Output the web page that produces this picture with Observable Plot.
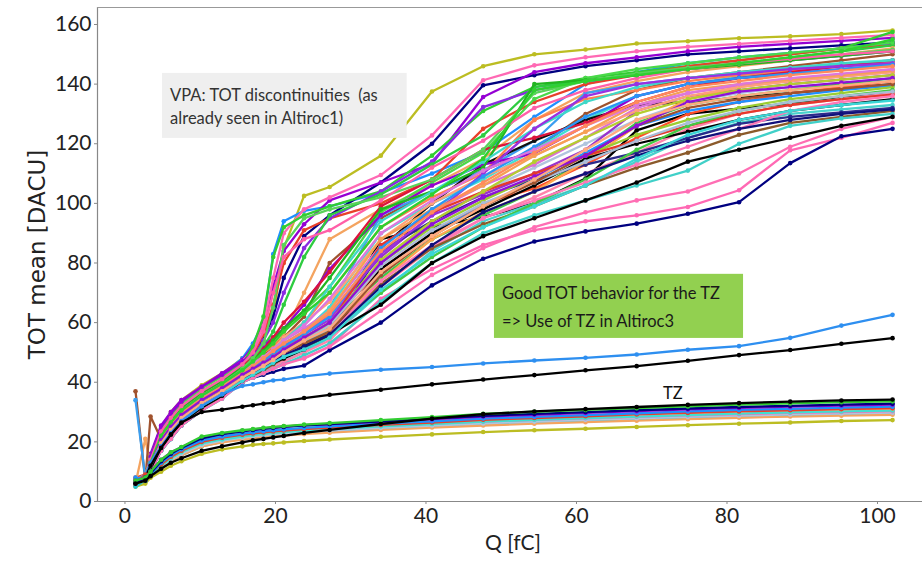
<!DOCTYPE html>
<html>
<head>
<meta charset="utf-8">
<script src="https://cdn.jsdelivr.net/npm/d3@7"></script>
<script src="https://cdn.jsdelivr.net/npm/@observablehq/plot@0.6"></script>
<style>
  body { margin: 0; background: #fff; }
  #chart svg { display: block; }
</style>
</head>
<body>
<div id="chart"></div>
<script>
// Injected charge grid (fC)
const Q = [1.4, 2.7, 3.4, 4.8, 6.1, 7.5, 10.2, 12.9, 15.6, 17, 18.4, 19.7, 21.1, 23.8, 27.2, 34, 40.8, 47.6, 54.4, 61.2, 68, 74.8, 81.6, 88.4, 95.2, 102];

// VPA channels (TOT mean, DACU)
const vpa01 = [7, 8, 15, 25, 30, 34, 39, 43, 48, 51, 55, 62, 85, 102.5, 105.5, 116, 137.5, 146, 150, 151.6, 153.6, 154.4, 155.4, 156, 156.8, 158];
const vpa02 = [6, 8, 14, 24, 29, 33, 38, 42.5, 48, 53, 60, 83, 94, 97.5, 99, 103.5, 110, 117.2, 129, 140, 144, 147, 149, 150.5, 152, 153.5];
const vpa03 = [7, 9, 13, 23, 27.5, 31.5, 36.5, 40.5, 45.5, 49, 55, 62, 75, 89, 96, 107, 120, 139.6, 143, 146, 148, 150, 151, 152, 153, 154];
const vpa04 = [6, 8, 16, 25.5, 30, 34, 38.5, 43, 47.5, 52, 60, 72, 84, 93, 101, 107, 113.3, 135.7, 144, 147, 149, 151, 152.5, 153.5, 154.5, 155.5];
const vpa05 = [7, 9, 14, 24, 29, 33, 38, 42, 47, 51, 59, 75, 90, 98, 102, 109.5, 122.8, 141.3, 146.3, 149, 151, 152.5, 153.5, 154.5, 155.5, 156.5];
const vpa06 = [6, 8, 13, 23, 28, 32, 37, 41, 46, 52, 62, 82, 92, 96, 99, 104, 116, 131, 139, 142, 144, 146, 148, 150, 152, 157.5];
const vpa07 = [8, 9, 13, 22.5, 27, 31, 36, 40.5, 45, 49, 56, 66, 80, 91, 95, 100, 108, 125, 134, 140, 143, 146, 148, 150, 152, 153];
const vpa08 = [6, 8, 13, 22, 26.5, 30.5, 35.5, 39.5, 44.5, 48, 54, 60, 70, 85, 95, 104, 114, 132.3, 138, 141, 143, 145, 146.5, 148, 149.5, 151];
const vpa09 = [7, 9, 12, 21.5, 26, 30, 35, 39, 44, 47, 52, 57, 66, 82, 96, 103, 113, 122.8, 139, 141, 143, 145, 147, 149, 151, 153];
const vpa10 = [6, 21, 12, 21, 25.5, 29.5, 34.5, 38.5, 43.5, 46, 49, 52, 56, 70, 88, 98, 106, 115, 128, 137, 141, 144, 146, 148, 150, 152];
const vpa11 = [37, 7, 28.5, 21, 25, 29, 34, 38, 43, 46, 49, 52, 55, 62, 80, 95, 104, 111, 118, 130, 138, 142, 144, 146, 148, 150];
const vpa12 = [34, 8, 12, 20.5, 25, 29, 34, 38, 42.5, 45, 48, 50, 53, 57, 65, 96, 104, 111, 121, 137, 140, 142, 143.5, 145, 146.5, 148];
const vpa13 = [6, 8, 11, 17, 21, 25.5, 30.5, 34.5, 40, 43, 46, 49, 52, 57, 65, 90, 100, 108, 118, 128, 136, 140, 142.5, 144.5, 146, 147.5];
const vpa14 = [6, 8, 13, 19.5, 23.5, 28, 33, 37, 41.5, 43, 45, 47, 49, 51, 55.7, 88, 92, 95.4, 100, 108.3, 124.5, 130, 131.8, 133.4, 135.8, 137.4];
const vpa15 = [6, 8, 12, 21, 25, 29, 34, 38, 42.5, 44, 46, 47.5, 49, 52, 58, 85, 100, 113, 121, 128, 133, 134, 135.5, 137, 138.5, 140];
const vpa16 = [7, 9, 11, 17.5, 21.5, 26, 31, 35, 40, 42, 43.5, 45, 46.5, 48, 52, 68, 78, 86, 91, 94, 96, 98.8, 104.4, 117.8, 122, 127];
const vpa17 = [6, 7, 10, 17, 21, 25.5, 30.5, 35, 40, 41.5, 42.5, 43.5, 44.5, 45.6, 50.7, 60, 72.5, 81.4, 87.2, 90.6, 93.2, 96.5, 100.4, 113.5, 122.5, 125];
const vpa18 = [7, 9, 12, 19, 23.5, 27.5, 33, 37, 41.5, 44, 46.5, 49, 52, 56, 62, 80, 94, 104, 112, 120, 128, 134, 137, 139, 140, 141];
const vpa19 = [6, 8, 13, 22.5, 27, 31, 36, 40, 45, 47.5, 50, 52, 55, 60, 70, 92, 102, 110, 128, 135, 138, 141, 143, 144.5, 146, 147.5];
const vpa20 = [6, 8, 12, 19, 23.5, 27.5, 32.5, 36.5, 41, 43, 45.5, 48, 51, 55, 60, 75, 88, 96, 104, 115, 127, 133, 136, 138, 140, 142];
const vpa21 = [7, 8, 13, 21, 25.5, 29.5, 34.5, 38.5, 43, 45, 47.5, 50, 52.5, 56, 63, 82, 96, 103, 110, 118, 131, 136, 138, 140, 141.5, 143];
const vpa22 = [6, 8, 11, 17, 21, 26, 31, 35, 40.5, 42, 43.5, 45, 47, 50, 55, 70, 84, 94, 100, 106, 114, 122, 127, 130, 131.5, 133];
const vpa23 = [6, 8, 13, 21, 25.5, 29.5, 34.5, 38.5, 43.5, 45, 47, 49, 51.5, 55, 60, 78, 90, 100, 105, 113, 122, 130, 134, 137, 139, 141];
const vpa24 = [7, 8, 12, 19, 23.5, 27.5, 32.5, 36.5, 41, 42.5, 44, 45.5, 47, 50, 54, 72, 85, 95, 102, 110, 117, 125, 130, 133, 135, 137];
const vpa25 = [6, 8, 12, 19.5, 24, 28, 33, 37, 41.5, 43.5, 45, 47.5, 50, 53, 57, 84, 94, 102, 108, 113, 117, 122, 126.7, 129, 130.5, 132];
const vpa26 = [6, 8, 12, 20.5, 25, 29, 34, 38, 42.5, 44.5, 46.5, 48, 50, 53, 58, 74, 88, 97, 104, 114, 126, 135, 139, 141, 143, 145];
const vpa27 = [7, 9, 15, 24.5, 29, 33, 38, 42, 46.5, 49, 52, 55, 58, 64, 72, 97, 107, 117, 135, 142, 145, 147, 149, 150.5, 152, 154];
const vpa28 = [6, 8, 11, 17.5, 21.5, 26, 31, 35, 40, 42, 44, 46, 48, 52, 57, 73, 85, 93, 99, 106, 112, 117, 123, 127, 129, 131];
const vpa29 = [7, 9, 13, 22.5, 27, 31, 36, 40, 44.5, 46.5, 48.5, 51, 54, 58, 64, 86, 97, 106, 113, 122, 132, 137, 139.5, 141, 142.5, 144];
const vpa30 = [6, 8, 12, 19, 23.5, 27.5, 32.5, 36.5, 41, 43, 45, 47, 49.5, 53, 58, 76, 90, 99, 108, 117, 126, 131, 134, 136, 138, 139.5];
const vpa31 = [6, 8, 11, 17, 21, 25.5, 30.5, 34.5, 40, 41.5, 43, 44.5, 46, 49, 53, 67, 80, 90, 96, 101, 106, 111, 120, 126, 128.5, 130];
const vpa32 = [6, 8, 15, 25, 29.5, 33.5, 38.5, 42.5, 47, 49.5, 52, 55, 58, 66, 78, 96, 106, 113, 116.8, 126, 136, 140, 142, 143.5, 145, 146.5];
const vpa33 = [7, 9, 13, 21, 25.5, 29.5, 34.5, 38.5, 43.5, 46, 48.5, 51, 55, 60, 67, 88, 100, 109, 116, 124, 131, 136, 139, 141, 142.5, 144];
const vpa34 = [6, 8, 12, 19, 23.5, 27.5, 32.5, 36.5, 41.5, 43.5, 45.5, 47.5, 50, 54, 59, 80, 92, 101, 109, 116, 123, 128, 132, 135, 137, 139];
const vpa35 = [7, 9, 13, 23, 27.5, 31.5, 36.5, 40.5, 45.5, 48, 51, 55, 60, 67, 77, 99, 108, 118, 122, 127, 134, 139, 142, 144, 146, 148];
const vpa36 = [6, 8, 13, 22.5, 27.5, 31.5, 36.5, 40.5, 45, 47.5, 50.5, 54, 58, 64, 75, 98, 104, 112, 140, 141.3, 143, 145, 146.5, 148, 149.5, 151];
const vpa37 = [6, 7, 10, 17, 21, 25.5, 30.5, 34.5, 40, 41.5, 43, 44.5, 46, 48, 52, 64, 76, 85, 92, 97, 101, 104, 110, 119, 125, 129];
const vpa38 = [7, 8, 12, 19, 23.5, 28, 33, 37, 41.5, 43, 45, 46.5, 48, 51, 56, 78, 90, 98, 106, 115, 120, 124, 128, 131, 133, 135];
const vpa39 = [6, 8, 13, 22, 26.5, 30.5, 35.5, 39.5, 44.5, 48, 53, 65, 86, 95, 98, 102, 108, 118, 137, 141, 143.5, 145.5, 147, 148.5, 150, 151.5];
const vpa40 = [7, 9, 14, 23.5, 28, 32, 37, 41, 46, 50, 57, 70, 82, 88, 91, 101, 112, 121, 132, 138, 142, 145, 147, 148.5, 150, 151];
const vpa41 = [6, 8, 12, 21, 25.5, 29.5, 34.5, 38.5, 43, 45.5, 48, 51, 54, 60, 72, 94, 104, 114, 125, 134, 139, 142, 144, 145.5, 147, 148];
const vpa42 = [6, 8, 12, 20, 24.5, 28.5, 33.5, 37.5, 42, 44, 46.5, 49, 52, 57, 64, 88, 98, 106, 116, 124, 133, 138, 140, 141.5, 143, 144.5];
const vpa43 = [7, 8, 12, 20.5, 25, 29, 34, 38, 42.5, 44.5, 47, 49.5, 52, 56, 61, 83, 96, 110, 125, 136, 140, 142, 143.5, 145, 146, 147];
const vpa44 = [6, 8, 12, 19.5, 24, 28, 33, 37, 41.5, 43.5, 46, 48, 50.5, 54, 59, 86, 97, 104, 110, 116, 121, 126, 130, 133, 135, 136.5];
const vpa45 = [6, 8, 12, 20, 24.5, 28.5, 33.5, 37.5, 42, 44.5, 47, 49.5, 52, 56, 62, 85, 98, 109, 119, 129, 136, 140, 142, 143.5, 145, 146.5];
const vpa46 = [6, 8, 12, 19, 23.5, 27.5, 32.5, 36.5, 41, 43, 45, 47, 49.5, 53, 57, 70, 82, 92, 100, 108, 118, 126, 131, 134, 136, 138];
const vpa47 = [7, 8, 12, 20, 24.5, 28.5, 33.5, 37.5, 42, 44, 46, 48, 50, 54, 59, 79, 91, 100, 107, 114, 121, 127, 131, 134, 136, 137.5];
const vpa48 = [6, 8, 12, 19.5, 24, 28, 33, 37, 41.5, 43.5, 45.5, 47.5, 49.5, 53, 57, 76, 89, 99, 107, 116, 126, 132, 135, 137, 138.5, 140];
const vpa49 = [6, 8, 12, 19, 23.5, 27.5, 32.5, 36.5, 41, 43, 45, 47, 49, 52, 56, 74, 86, 95, 101, 107, 113, 119, 125, 131, 134, 136];
const vpa50 = [6, 7, 11, 18, 22.5, 26.5, 31.5, 35.5, 40.5, 42.5, 44.5, 46.5, 48.5, 52, 56, 66, 80, 89, 95, 101, 107, 114, 118, 122, 126, 129];
const vpa51 = [7, 9, 13, 21.5, 26, 30, 35, 39, 43.5, 46, 48.5, 51, 54, 59, 68, 90, 101, 111, 118, 126, 133, 137, 140, 142, 143.5, 145];
const vpa52 = [6, 8, 12, 20, 24.5, 28.5, 33.5, 37.5, 42, 44, 46.5, 48.5, 51, 55, 60, 81, 94, 104, 114, 122, 130, 135, 138, 140, 141.5, 143];
const vpa53 = [6, 8, 12, 19.5, 24, 28, 33, 37, 41.5, 43, 45, 47, 49, 52, 56, 72, 86, 97, 104, 110, 116, 121, 125, 128, 130, 131.5];
const vpa54 = [6, 8, 12, 18.5, 23, 27, 32, 36, 40.5, 42.5, 44.5, 46.5, 48.5, 51, 55, 71, 83, 92, 99, 106, 115, 123, 128, 131, 133, 134.5];
const vpa55 = [7, 9, 13, 21, 25.5, 29.5, 34.5, 38.5, 43, 45.5, 48, 50.5, 53, 57, 63, 84, 97, 107, 117, 126, 134, 139, 141, 143, 144.5, 146];
const vpa56 = [6, 8, 13, 22, 26.5, 30.5, 35.5, 39.5, 44, 47, 50, 53, 57, 63, 70, 92, 103, 115, 138, 141, 143, 145, 147, 149, 151, 155];
const vpa57 = [6, 8, 12, 20.5, 25, 29, 34, 38, 42.5, 44.5, 46.5, 48.5, 51, 55, 60, 80, 93, 102, 109, 116, 126, 134, 137.5, 139, 140.5, 142];
const vpa58 = [7, 8, 12, 19.5, 24, 28, 33, 37, 41.5, 43.5, 45.5, 47.5, 50, 54, 58, 77, 89, 99, 108, 118, 128, 133, 136, 138, 139.5, 141];
// VPA channels without discontinuity
const vpaBlue = [7, 9, 13, 18.5, 23, 27, 32, 36, 38.8, 39.3, 40, 40.6, 40.9, 42, 42.9, 44.2, 45.1, 46.3, 47.3, 48.2, 49.3, 50.9, 52.1, 54.9, 59, 62.6];
const vpaBlack = [6, 8, 12, 18, 22.5, 26.5, 30, 30.8, 31.8, 32.3, 32.8, 33.1, 33.7, 34.7, 35.8, 37.5, 39.3, 40.9, 42.4, 44, 45.4, 47.2, 49.1, 50.8, 52.9, 54.8];

// TZ channels
const tz01 = [6, 7, 8.5, 11, 13, 14.5, 17, 18.5, 19.8, 20.5, 21, 21.5, 22, 23, 24, 26, 27.8, 29.3, 30.2, 31, 31.7, 32.4, 33, 33.5, 33.9, 34.2];
const tz02 = [7, 8, 10, 14, 16.5, 18.3, 21.8, 23, 23.9, 24.3, 24.7, 25, 25.3, 25.8, 26.3, 27.3, 28.3, 29.4, 30.1, 30.7, 31.3, 31.9, 32.5, 32.9, 33.3, 33.6];
const tz03 = [6, 8, 9.5, 13.5, 16, 18, 21.2, 22.6, 23.5, 24, 24.4, 24.7, 25, 25.5, 26, 26.9, 27.8, 28.7, 29.4, 30, 30.6, 31.2, 31.7, 32.1, 32.5, 32.8];
const tz04 = [7, 8, 10, 14, 16.5, 18.2, 21.5, 22.8, 23.7, 24.1, 24.5, 24.8, 25.1, 25.6, 26, 26.8, 27.6, 28.5, 29.1, 29.7, 30.3, 30.9, 31.4, 31.8, 32.2, 32.5];
const tz05 = [8, 7, 9, 13, 15.5, 17.5, 20.5, 21.8, 22.8, 23.2, 23.6, 23.9, 24.2, 24.7, 25.2, 26.1, 26.9, 27.8, 28.4, 29, 29.6, 30.2, 30.7, 31.1, 31.5, 31.8];
const tz06 = [6, 9, 9.5, 12.5, 15, 17, 20, 21.4, 22.4, 22.8, 23.2, 23.5, 23.8, 24.3, 24.8, 25.7, 26.5, 27.4, 28, 28.6, 29.2, 29.7, 30.2, 30.6, 31, 31.3];
const tz07 = [7, 8, 10, 13.5, 16, 18, 21, 22.5, 23.6, 24, 24.5, 24.9, 25.2, 25.5, 25.9, 26.5, 27.2, 27.9, 28.4, 28.9, 29.4, 29.9, 30.3, 30.7, 31, 31.2];
const tz08 = [6, 7, 9, 12, 14.5, 16.5, 19.5, 20.8, 21.8, 22.3, 22.7, 23, 23.3, 23.8, 24.3, 25.2, 26, 26.8, 27.4, 28, 28.5, 29, 29.5, 29.9, 30.2, 30.5];
const tz09 = [7, 8, 9.5, 12.5, 15, 17, 20, 21.3, 22.2, 22.6, 23, 23.3, 23.6, 24, 24.5, 25.3, 26.1, 26.8, 27.4, 27.9, 28.4, 28.9, 29.3, 29.7, 30, 30.3];
const tz10 = [6, 7, 9, 12, 14, 16, 19, 20.4, 21.4, 21.8, 22.2, 22.5, 22.8, 23.3, 23.8, 24.7, 25.5, 26.2, 26.8, 27.4, 27.9, 28.4, 28.8, 29.2, 29.5, 29.8];
const tz11 = [5, 7, 9, 11.5, 13.5, 15.5, 18.5, 20, 21, 21.4, 21.8, 22.1, 22.4, 22.9, 23.4, 24.3, 25.1, 25.9, 26.5, 27, 27.5, 28, 28.5, 28.9, 29.2, 29.5];
const tz12 = [5, 6, 8, 10, 12, 13.5, 16, 17.5, 18.5, 19, 19.3, 19.5, 19.8, 20.3, 20.8, 21.7, 22.5, 23.3, 23.9, 24.4, 25, 25.6, 26.1, 26.5, 27, 27.3];
const tz13 = [6, 7, 9, 12.5, 15, 17, 20.2, 21.6, 22.6, 23, 23.4, 23.7, 24, 24.5, 25, 25.9, 26.7, 27.6, 28.2, 28.8, 29.4, 29.9, 30.4, 30.8, 31.2, 31.5];
const tz14 = [6, 8, 9, 11.5, 13.5, 15.5, 18.5, 19.8, 20.8, 21.2, 21.5, 21.8, 22.1, 22.6, 23.1, 24, 24.8, 25.5, 26.1, 26.6, 27.1, 27.6, 28.1, 28.5, 28.8, 29.1];

// Axis ticks
const xTicks = [0, 20, 40, 60, 80, 100];
const yTicks = [0, 20, 40, 60, 80, 100, 120, 140, 160];

// Annotation texts
const noteVPA = ["VPA: TOT discontinuities\u00a0 (as", "already seen in Altiroc1)"];
const noteTZ = ["Good TOT behavior for the TZ", "=> Use of TZ in Altiroc3"];
const labelTZ = "TZ";

// Series table: [values, colour]
const series = [
  [vpa01, "#bcbd22"], [vpa02, "#1e90ff"], [vpa03, "#000080"], [vpa04, "#9400d3"],
  [vpa05, "#ff69b4"], [vpa06, "#32cd32"], [vpa07, "#e8402a"], [vpa08, "#8a2be2"],
  [vpa09, "#2ecc40"], [vpa10, "#f4a460"], [vpa11, "#a0522d"], [vpa12, "#3a9ef0"],
  [vpa13, "#40e0d0"], [vpa14, "#000000"], [vpa15, "#111111"], [vpa16, "#ff69b4"],
  [vpa17, "#000080"], [vpa18, "#b0c4de"], [vpa19, "#ff7f50"], [vpa20, "#3cc84a"],
  [vpa21, "#9932cc"], [vpa22, "#48d1cc"], [vpa23, "#ff4f2a"], [vpa24, "#ff82ab"],
  [vpa25, "#2b2b8c"], [vpa26, "#ffa54f"], [vpa27, "#4ad94a"], [vpa28, "#8b5a2b"],
  [vpa29, "#da70d6"], [vpa30, "#1e90ff"], [vpa31, "#40d0c8"], [vpa32, "#9400d3"],
  [vpa33, "#ffa07a"], [vpa34, "#9acd32"], [vpa35, "#dc143c"], [vpa36, "#22b522"],
  [vpa37, "#ff6eb4"], [vpa38, "#000000"],
  [vpa39, "#5ad25a"], [vpa40, "#ff5fa8"], [vpa41, "#3fd8c8"], [vpa42, "#f5a055"],
  [vpa43, "#9b30e0"], [vpa44, "#e5392b"], [vpa45, "#2a95f5"], [vpa46, "#44c944"],
  [vpa47, "#a9bdd8"], [vpa48, "#a0522d"], [vpa49, "#ff78b8"], [vpa50, "#000000"],
  [vpa51, "#dd77dd"], [vpa52, "#b5cc30"], [vpa53, "#10107a"], [vpa54, "#3ad6d6"],
  [vpa55, "#ff8a5c"], [vpa56, "#2fd12f"], [vpa57, "#8f10d8"], [vpa58, "#ffab80"],
  [vpaBlue, "#2e8ff0"], [vpaBlack, "#000000"],
  [tz12, "#bcbd22"], [tz11, "#20c0d0"], [tz14, "#f4a460"], [tz10, "#b0c4de"], [tz09, "#ff69b4"],
  [tz08, "#40e0d0"], [tz13, "#9acd32"], [tz07, "#f4a460"], [tz06, "#e8402a"], [tz05, "#1e90ff"],
  [tz04, "#9400d3"], [tz03, "#000080"], [tz02, "#32cd32"], [tz01, "#000000"]
];

const seriesMarks = series.flatMap(([vals, color]) => {
  const rows = Q.map((q, i) => ({q, v: vals[i]}));
  return [
    Plot.line(rows, {x: "q", y: "v", stroke: color, strokeWidth: 2.3}),
    Plot.dot(rows, {x: "q", y: "v", r: 2.3, fill: color, stroke: "none"})
  ];
});

const tickFont = "Lato, 'Open Sans', sans-serif";
const xMin = -3.65, xMax = 105.98, yMax = 165.7;

const chart = Plot.plot({
  width: 922,
  height: 563,
  marginLeft: 97,
  marginRight: 0,
  marginTop: 7,
  marginBottom: 62,
  style: {background: "#ffffff", color: "#222", fontFamily: tickFont},
  x: {domain: [xMin, xMax]},
  y: {domain: [0, yMax]},
  marks: [
    ...seriesMarks,
    // annotation boxes
    Plot.rect([{x1: 4.98, x2: 37.5, y1: 121.8, y2: 143.6}], {x1: "x1", x2: "x2", y1: "y1", y2: "y2", fill: "#efefef"}),
    Plot.rect([{x1: 49.1, x2: 82.2, y1: 54.7, y2: 76.2}], {x1: "x1", x2: "x2", y1: "y1", y2: "y2", fill: "#92d050"}),
    Plot.text(noteVPA.map((t, i) => ({t, y: [136.2, 128.4][i]})), {x: 6.0, y: "y", text: "t", textAnchor: "start", fontSize: 16.5, fill: "#333", fontFamily: tickFont}),
    Plot.text(noteTZ.map((t, i) => ({t, y: [69.7, 60.2][i]})), {x: 50.1, y: "y", text: "t", textAnchor: "start", fontSize: 16.5, fill: "#1a1a1a", fontFamily: tickFont}),
    Plot.text([labelTZ], {x: 72.8, y: 36.2, fontSize: 16.5, fill: "#111", fontFamily: tickFont}),
    // spines
    Plot.ruleX([xMin], {stroke: "#888", strokeWidth: 1.2}),
    Plot.ruleY([0], {stroke: "#888", strokeWidth: 1.2}),
    Plot.ruleY([yMax], {stroke: "#999", strokeWidth: 1.2}),
    // axes
    Plot.axisX({ticks: xTicks, tickSize: 3, tickPadding: 4, fontSize: 21, label: null, stroke: "#888"}),
    Plot.axisY({ticks: yTicks, tickSize: 3, tickPadding: 3, fontSize: 21, label: null, stroke: "#888"}),
    // axis titles
    Plot.text(["TOT mean [DACU]"], {frameAnchor: "left", textAnchor: "middle", lineAnchor: "middle", dx: -60, rotate: -90, fontSize: 23, fontFamily: "'DejaVu Sans', sans-serif", fill: "#222"}),
    Plot.text(["Q [fC]"], {frameAnchor: "bottom", textAnchor: "middle", lineAnchor: "middle", dx: 3, dy: 42, fontSize: 21, fontFamily: tickFont, fill: "#222"})
  ]
});

document.getElementById("chart").appendChild(chart);
</script>
</body>
</html>
